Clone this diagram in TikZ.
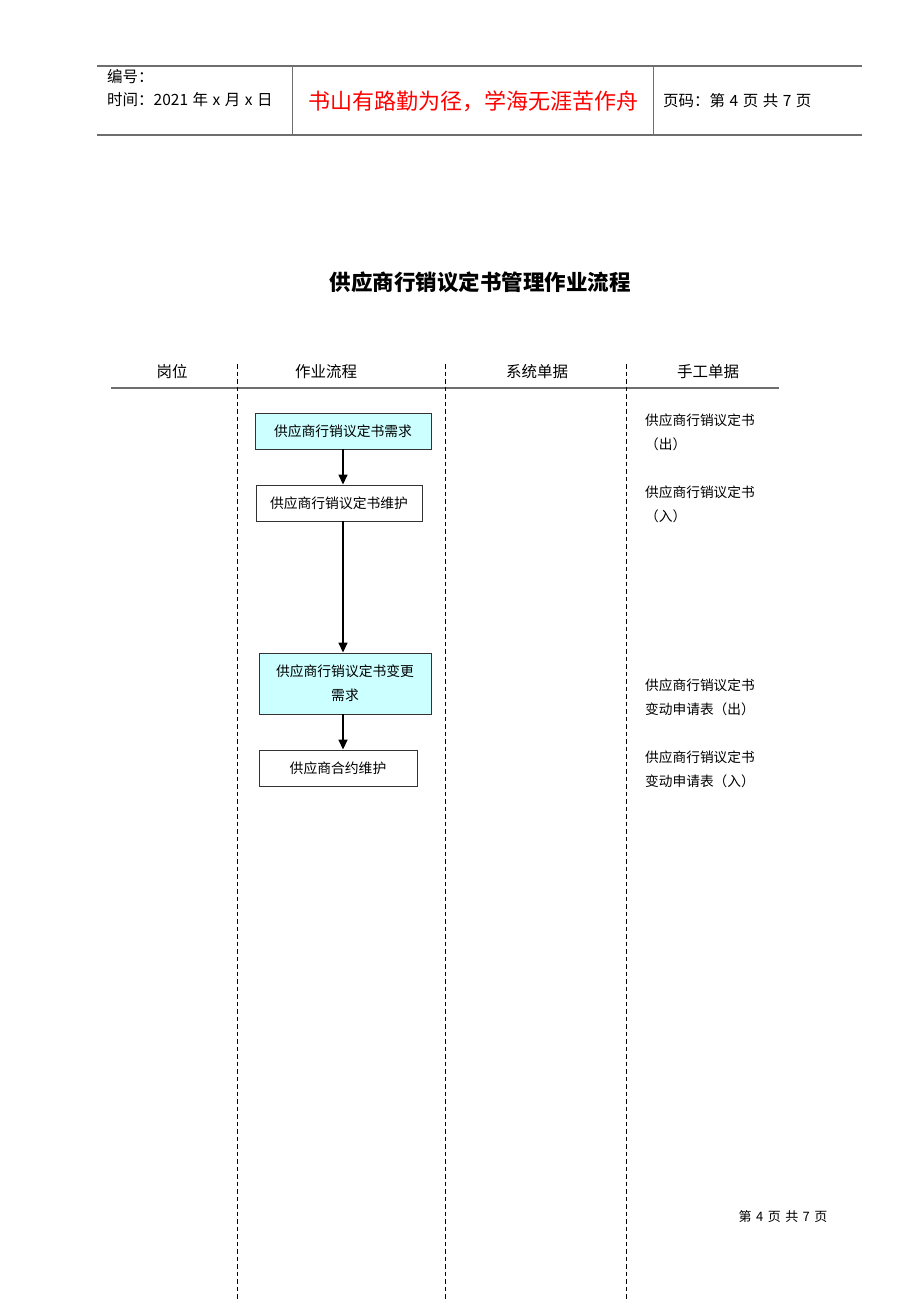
\documentclass[tikz,border=0pt]{standalone}
\usepackage{fontspec}
\setmainfont{Noto Sans CJK SC}
\usetikzlibrary{arrows.meta}
\definecolor{rulegray}{RGB}{110,110,110}
\definecolor{boxcyan}{RGB}{204,255,255}
\definecolor{titlered}{RGB}{255,0,0}
\newcommand{\gapsp}{\hspace{4.5pt}}
\tikzset{
  hdrline/.style={draw=rulegray, line width=1.3pt},
  lane/.style={draw=black, line width=1pt, dash pattern=on 4.5pt off 3pt},
  procbox/.style={draw=black!80, line width=0.9pt, fill=white, inner sep=0pt, align=center,
    font=\fontsize{13.8}{24}\selectfont},
  cyanbox/.style={procbox, fill=boxcyan},
  arr/.style={draw=black, line width=1.5pt, -{Triangle[width=9pt,length=10pt]}},
  doc/.style={anchor=west, inner sep=0pt, align=left, font=\fontsize{13.7}{24}\selectfont},
  colhead/.style={inner sep=0pt, font=\fontsize{15.5}{18}\selectfont},
}
\begin{document}
\begin{tikzpicture}[x=1pt,y=-1pt]
\useasboundingbox (0,0) rectangle (920,1302);
\fill[white] (0,0) rectangle (920,1302);

% header table
\coordinate (htl) at (97,66);
\coordinate (htr) at (862,66);
\coordinate (hbl) at (97,135);
\coordinate (hbr) at (862,135);
\coordinate (v1t) at (292,66);
\coordinate (v1b) at (292,135);
\coordinate (v2t) at (653,66);
\coordinate (v2b) at (653,135);
\draw[hdrline] (htl) -- (htr);
\draw[hdrline] (hbl) -- (hbr);
\draw[draw=rulegray, line width=1pt] (v1t) -- (v1b);
\draw[draw=rulegray, line width=1pt] (v2t) -- (v2b);

\node[anchor=west, inner sep=0pt, font=\fontsize{15.5}{18}\selectfont] (bianhao) at (107,77) {编号：};
\node[anchor=west, inner sep=0pt, font=\fontsize{15.5}{18}\selectfont] (shijian) at (107,100) {时间：2021\gapsp 年\gapsp x\gapsp 月\gapsp x\gapsp 日};
\node[inner sep=0pt, text=titlered, font=\fontsize{22}{26}\selectfont] (motto) at (473,101) {书山有路勤为径，学海无涯苦作舟};
\node[anchor=west, inner sep=0pt, font=\fontsize{15.5}{18}\selectfont] (yema) at (663,101) {页码：第\gapsp 4\gapsp 页\gapsp 共\gapsp 7\gapsp 页};

% title
\node[inner sep=0pt, font=\fontsize{21.5}{26}\selectfont\bfseries] (title) at (480,282) {供应商行销议定书管理作业流程};

% column headings
\node[colhead] (h1) at (172,372) {岗位};
\node[colhead] (h2) at (326,372) {作业流程};
\node[colhead] (h3) at (537,372) {系统单据};
\node[colhead] (h4) at (708,372) {手工单据};
\coordinate (hl1) at (111,388);
\coordinate (hl2) at (779,388);
\draw[draw=rulegray, line width=1.6pt] (hl1) -- (hl2);

% lane separators
\coordinate (l1t) at (237,364); \coordinate (l1b) at (237,1302);
\coordinate (l2t) at (445,364); \coordinate (l2b) at (445,1302);
\coordinate (l3t) at (626,364); \coordinate (l3b) at (626,1302);
\draw[lane] (l1t) -- (l1b);
\draw[lane] (l2t) -- (l2b);
\draw[lane] (l3t) -- (l3b);

% process boxes
\node[cyanbox, minimum width=176pt, minimum height=36pt] (b1) at (343,431) {供应商行销议定书需求};
\node[procbox, minimum width=166pt, minimum height=36pt] (b2) at (339,503) {供应商行销议定书维护};
\node[cyanbox, minimum width=172pt, minimum height=61pt] (b3) at (345,683.5) {供应商行销议定书变更\\需求};
\node[procbox, minimum width=158pt, minimum height=36pt] (b4) at (338,768) {供应商合约维护};

\draw[arr] (b1.south) -- (b1.south |- b2.north);
\draw[arr] (b2.south -| b1.south) -- (b3.north -| b1.south);
\draw[arr] (b3.south -| b1.south) -- (b4.north -| b1.south);

% manual documents
\node[doc] (d1) at (645,432) {供应商行销议定书\\（出）};
\node[doc] (d2) at (645,504) {供应商行销议定书\\（入）};
\node[doc] (d3) at (645,697) {供应商行销议定书\\变动申请表（出）};
\node[doc] (d4) at (645,769) {供应商行销议定书\\变动申请表（入）};

% footer
\node[inner sep=0pt, font=\fontsize{13}{16}\selectfont] (footer) at (783,1217) {第\gapsp 4\gapsp 页\gapsp 共\gapsp 7\gapsp 页};
\end{tikzpicture}
\end{document}
